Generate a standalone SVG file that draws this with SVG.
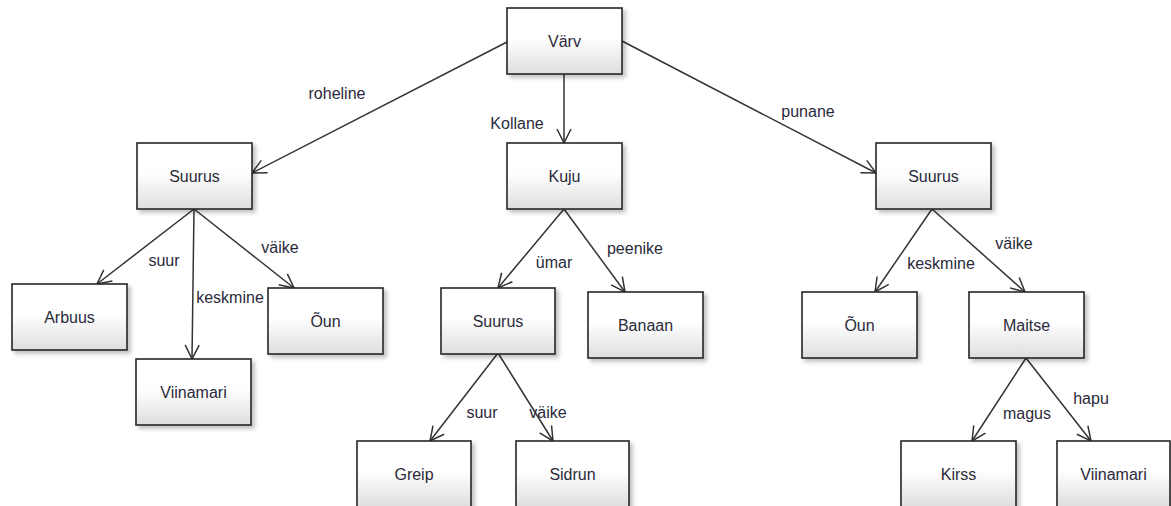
<svg xmlns="http://www.w3.org/2000/svg" width="1171" height="506" viewBox="0 0 1171 506">
<style>
.box{fill:url(#g);stroke:#262626;stroke-width:1.6;filter:url(#sh)}
.t{font-family:"Liberation Sans",Arial,sans-serif;font-size:16px;fill:#2a2a3a;text-anchor:middle}
.lbl{font-family:"Liberation Sans",Arial,sans-serif;font-size:16px;fill:#2a2a3a;text-anchor:middle}
.c{stroke:#333;stroke-width:1.5;fill:none;marker-end:url(#ah)}
</style>
<defs>
<linearGradient id="g" x1="0" y1="0" x2="0" y2="1">
<stop offset="0" stop-color="#ffffff"/>
<stop offset="0.45" stop-color="#ffffff"/>
<stop offset="1" stop-color="#dedede"/>
</linearGradient>
<filter id="sh" x="-10%" y="-10%" width="130%" height="140%">
<feDropShadow dx="3" dy="3" stdDeviation="2" flood-color="#000" flood-opacity="0.25"/>
</filter>
<marker id="ah" markerUnits="userSpaceOnUse" markerWidth="20" markerHeight="20" refX="0" refY="0" viewBox="-16 -10 20 20" orient="auto">
<path d="M-14,-7 L0,0 L-14,7" fill="none" stroke="#333" stroke-width="1.5"/>
</marker>
</defs>
<g id="connectors">
<line class="c" x1="507" y1="42" x2="252" y2="173"/>
<line class="c" x1="564" y1="74" x2="564" y2="143"/>
<line class="c" x1="622" y1="41" x2="876" y2="173"/>
<line class="c" x1="194" y1="209" x2="97" y2="284"/>
<line class="c" x1="194" y1="209" x2="192" y2="359"/>
<line class="c" x1="194" y1="209" x2="294" y2="288"/>
<line class="c" x1="564" y1="209" x2="498" y2="288"/>
<line class="c" x1="564" y1="209" x2="625" y2="292"/>
<line class="c" x1="498" y1="353" x2="430" y2="441"/>
<line class="c" x1="498" y1="353" x2="553" y2="441"/>
<line class="c" x1="932" y1="209" x2="875" y2="292"/>
<line class="c" x1="932" y1="209" x2="1025" y2="292"/>
<line class="c" x1="1026" y1="358" x2="972" y2="441"/>
<line class="c" x1="1026" y1="358" x2="1091" y2="441"/>
<text class="lbl" x="337" y="93" dy="0.35em">roheline</text>
<text class="lbl" x="517" y="123" dy="0.35em">Kollane</text>
<text class="lbl" x="808" y="111" dy="0.35em">punane</text>
<text class="lbl" x="164" y="260" dy="0.35em">suur</text>
<text class="lbl" x="230" y="297" dy="0.35em">keskmine</text>
<text class="lbl" x="280" y="247" dy="0.35em">väike</text>
<text class="lbl" x="554" y="262" dy="0.35em">ümar</text>
<text class="lbl" x="635" y="248" dy="0.35em">peenike</text>
<text class="lbl" x="482" y="412" dy="0.35em">suur</text>
<text class="lbl" x="548" y="412" dy="0.35em">väike</text>
<text class="lbl" x="941" y="263" dy="0.35em">keskmine</text>
<text class="lbl" x="1014" y="243" dy="0.35em">väike</text>
<text class="lbl" x="1027" y="413" dy="0.35em">magus</text>
<text class="lbl" x="1091" y="398" dy="0.35em">hapu</text>
</g>
<g id="n1"><rect class="box" x="507" y="8" width="115" height="66"/><text class="t" x="564.5" y="41" dy="0.35em">Värv</text></g>
<g id="n2"><rect class="box" x="137" y="143" width="115" height="66"/><text class="t" x="194.5" y="176" dy="0.35em">Suurus</text></g>
<g id="n3"><rect class="box" x="507" y="143" width="115" height="66"/><text class="t" x="564.5" y="176" dy="0.35em">Kuju</text></g>
<g id="n4"><rect class="box" x="876" y="143" width="115" height="66"/><text class="t" x="933.5" y="176" dy="0.35em">Suurus</text></g>
<g id="n5"><rect class="box" x="12" y="284" width="115" height="66"/><text class="t" x="69.5" y="317" dy="0.35em">Arbuus</text></g>
<g id="n6"><rect class="box" x="136" y="359" width="115" height="66"/><text class="t" x="193.5" y="392" dy="0.35em">Viinamari</text></g>
<g id="n7"><rect class="box" x="268" y="288" width="115" height="66"/><text class="t" x="325.5" y="321" dy="0.35em">Õun</text></g>
<g id="n8"><rect class="box" x="441" y="288" width="114" height="66"/><text class="t" x="498" y="321" dy="0.35em">Suurus</text></g>
<g id="n9"><rect class="box" x="588" y="292" width="115" height="66"/><text class="t" x="645.5" y="325" dy="0.35em">Banaan</text></g>
<g id="n10"><rect class="box" x="357" y="441" width="114" height="66"/><text class="t" x="414" y="474" dy="0.35em">Greip</text></g>
<g id="n11"><rect class="box" x="516" y="441" width="113" height="66"/><text class="t" x="572.5" y="474" dy="0.35em">Sidrun</text></g>
<g id="n12"><rect class="box" x="802" y="292" width="115" height="66"/><text class="t" x="859.5" y="325" dy="0.35em">Õun</text></g>
<g id="n13"><rect class="box" x="969" y="292" width="115" height="66"/><text class="t" x="1026.5" y="325" dy="0.35em">Maitse</text></g>
<g id="n14"><rect class="box" x="901" y="441" width="115" height="66"/><text class="t" x="958.5" y="474" dy="0.35em">Kirss</text></g>
<g id="n15"><rect class="box" x="1057" y="441" width="113" height="66"/><text class="t" x="1113.5" y="474" dy="0.35em">Viinamari</text></g>
</svg>
